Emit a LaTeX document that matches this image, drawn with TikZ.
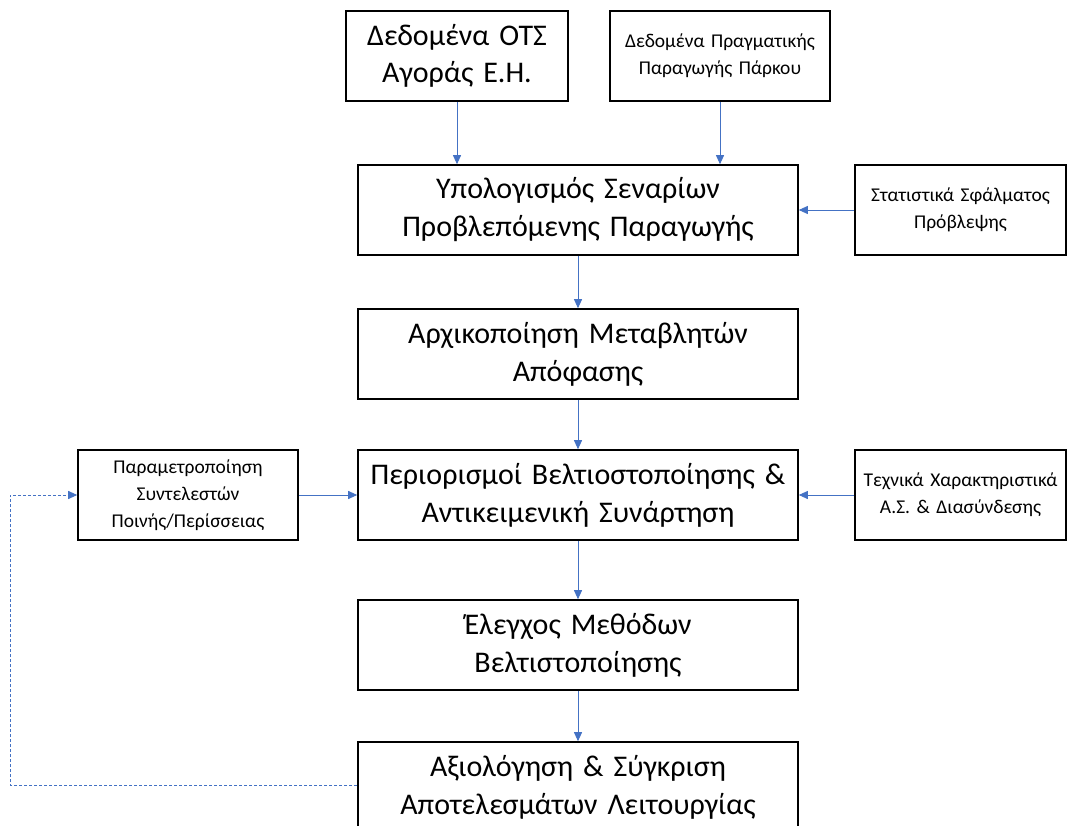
\documentclass[tikz,border=0pt]{standalone}
\usepackage{fontspec}
\setmainfont{Carlito}
\usetikzlibrary{arrows.meta}
\definecolor{lnblue}{HTML}{4472C4}
\tikzset{
  box/.style={draw=black, line width=1.6pt, align=center, inner sep=0pt, minimum height=90pt},
  bigtext/.style={font=\fontsize{30}{38}\selectfont},
  smalltext/.style={font=\fontsize{19.5}{27}\selectfont},
  flow/.style={draw=lnblue, line width=0.9pt, -{Triangle[length=9pt,width=8pt]}},
  feedback/.style={draw=lnblue, line width=0.9pt, dash pattern=on 3pt off 2pt, -{Triangle[length=9pt,width=8pt]}}
}
\begin{document}
\begin{tikzpicture}[x=1pt,y=-1pt]
\useasboundingbox (0,0) rectangle (1067,826);
\clip (0,0) rectangle (1067,826);
\node[box, minimum width=222pt, text width=222pt, font=\fontsize{30}{37}\selectfont] (ots) at (457,56) {Δεδομένα ΟΤΣ\\Αγοράς Ε.Η.};
\node[box, minimum width=220pt, text width=220pt, smalltext] (real) at (720,56) {Δεδομένα Πραγματικής\\Παραγωγής Πάρκου};
\node[box, minimum width=440pt, text width=440pt, bigtext] (scen) at (578,210) {Υπολογισμός Σεναρίων\\Προβλεπόμενης Παραγωγής};
\node[box, minimum width=211pt, text width=211pt, smalltext] (stat) at (960.5,210) {Στατιστικά Σφάλματος\\Πρόβλεψης};
\node[box, minimum width=440pt, text width=440pt, bigtext] (init) at (578,354) {Αρχικοποίηση Μεταβλητών\\Απόφασης};
\node[box, minimum width=440pt, text width=440pt, bigtext] (constr) at (578,495) {Περιορισμοί Βελτιοστοποίησης \&\\Αντικειμενική Συνάρτηση};
\node[box, minimum width=220pt, text width=220pt, smalltext] (param) at (188,495) {Παραμετροποίηση\\Συντελεστών\\Ποινής/Περίσσειας};
\node[box, minimum width=211pt, text width=211pt, smalltext] (tech) at (960.5,495) {Τεχνικά Χαρακτηριστικά\\Α.Σ. \& Διασύνδεσης};
\node[box, minimum width=440pt, text width=440pt, bigtext] (check) at (578,645) {Έλεγχος Μεθόδων\\Βελτιστοποίησης};
\node[box, minimum width=440pt, text width=440pt, bigtext] (eval) at (578,787) {Αξιολόγηση \& Σύγκριση\\Αποτελεσμάτων Λειτουργίας};
\coordinate (fbl) at (10,785);
\coordinate (fbu) at (10,495);
\draw[flow] (ots.south) -- (ots.south |- scen.north);
\draw[flow] (real.south) -- (real.south |- scen.north);
\draw[flow] (stat.west) -- (scen.east);
\draw[flow] (scen.south) -- (init.north);
\draw[flow] (init.south) -- (constr.north);
\draw[flow] (param.east) -- (constr.west);
\draw[flow] (tech.west) -- (constr.east);
\draw[flow] (constr.south) -- (check.north);
\draw[flow] (check.south) -- (eval.north);
\draw[feedback] (eval.west |- fbl) -- (fbl) -- (fbu) -- (param.west);
\end{tikzpicture}
\end{document}
